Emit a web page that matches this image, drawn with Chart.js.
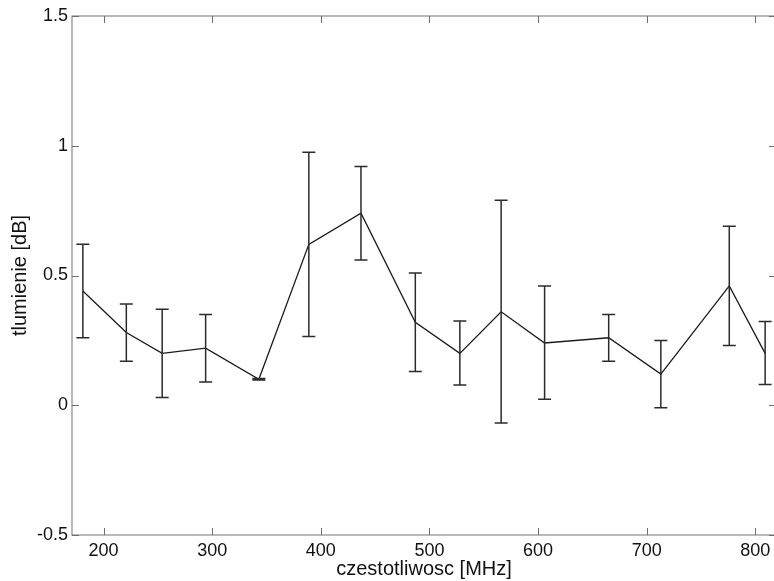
<!DOCTYPE html>
<html>
<head>
<meta charset="utf-8">
<script src="https://cdn.jsdelivr.net/npm/chart.js@4.4.0/dist/chart.umd.min.js"></script>
<style>
  html, body { margin: 0; padding: 0; background: #fff; overflow: hidden; }
  #wrap { width: 782px; height: 581px; }
</style>
</head>
<body>
<div id="wrap"><canvas id="attChart" width="782" height="581"></canvas></div>
<script>
// frequency [MHz] and attenuation [dB]
const freq = [181, 221, 254, 294, 343, 389, 437, 487, 528, 566, 606, 665, 713, 776, 809];
const meanDb = [0.44, 0.28, 0.20, 0.22, 0.10, 0.62, 0.74, 0.32, 0.20, 0.36, 0.24, 0.26, 0.12, 0.46, 0.20];
const upperDb = [0.62, 0.39, 0.37, 0.35, 0.103, 0.975, 0.92, 0.51, 0.325, 0.79, 0.46, 0.35, 0.25, 0.69, 0.323];
const lowerDb = [0.26, 0.17, 0.03, 0.09, 0.097, 0.265, 0.56, 0.13, 0.078, -0.068, 0.023, 0.17, -0.01, 0.23, 0.08];

const xTicks = [200, 300, 400, 500, 600, 700, 800];
const yTicks = [-0.5, 0, 0.5, 1, 1.5];
const yTickLabels = ['-0.5', '0', '0.5', '1', '1.5'];

const FONT = "'Liberation Sans', Arial, Helvetica, sans-serif";

// error bars + inward ticks + box, matlab style
const matlabAxes = {
  id: 'matlabAxes',
  afterDatasetsDraw(chart) {
    const ctx = chart.ctx;
    const xs = chart.scales.x, ys = chart.scales.y;
    const a = chart.chartArea;

    ctx.save();
    ctx.strokeStyle = '#2b2b2b';
    ctx.lineWidth = 1.5;
    const cap = 6.5;
    for (let i = 0; i < freq.length; i++) {
      const px = xs.getPixelForValue(freq[i]);
      const yt = ys.getPixelForValue(upperDb[i]);
      const yb = ys.getPixelForValue(lowerDb[i]);
      ctx.beginPath();
      ctx.moveTo(px, yt); ctx.lineTo(px, yb);
      ctx.moveTo(px - cap, yt); ctx.lineTo(px + cap, yt);
      ctx.moveTo(px - cap, yb); ctx.lineTo(px + cap, yb);
      ctx.stroke();
    }

    // box
    ctx.strokeStyle = '#8a8a8a';
    ctx.lineWidth = 1.2;
    ctx.strokeRect(a.left, a.top, a.right - a.left, a.bottom - a.top);

    // ticks pointing inwards
    ctx.strokeStyle = '#6e6e6e';
    ctx.lineWidth = 1;
    const tl = 7;
    ctx.beginPath();
    xTicks.forEach(v => {
      const px = Math.round(xs.getPixelForValue(v)) + 0.5;
      ctx.moveTo(px, a.bottom); ctx.lineTo(px, a.bottom - tl);
      ctx.moveTo(px, a.top); ctx.lineTo(px, a.top + tl);
    });
    yTicks.forEach(v => {
      const py = Math.round(ys.getPixelForValue(v)) + 0.5;
      ctx.moveTo(a.left, py); ctx.lineTo(a.left + tl, py);
      ctx.moveTo(a.right, py); ctx.lineTo(a.right - tl, py);
    });
    ctx.stroke();
    ctx.restore();
  }
};

new Chart(document.getElementById('attChart'), {
  type: 'line',
  data: {
    datasets: [{
      label: 'tlumienie',
      data: freq.map((f, i) => ({ x: f, y: meanDb[i] })),
      borderColor: '#1a1a1a',
      borderWidth: 1.3,
      pointRadius: 0,
      tension: 0,
      fill: false
    }]
  },
  options: {
    responsive: false,
    animation: false,
    devicePixelRatio: 1,
    layout: { padding: { top: 16, right: 6, left: 0, bottom: 0 } },
    plugins: { legend: { display: false }, tooltip: { enabled: false } },
    scales: {
      x: {
        type: 'linear',
        min: 171,
        max: 819,
        afterBuildTicks: (s) => { s.ticks = xTicks.map(v => ({ value: v })); },
        afterFit: (s) => { s.height = 46; },
        grid: { display: false, drawTicks: false },
        border: { display: false },
        ticks: { color: '#111', font: { family: FONT, size: 18 }, padding: 5, maxRotation: 0 },
        title: {
          display: true,
          text: 'czestotliwosc [MHz]',
          color: '#111',
          font: { family: FONT, size: 20 },
          padding: { top: 0, bottom: 0 }
        }
      },
      y: {
        min: -0.5,
        max: 1.5,
        afterBuildTicks: (s) => { s.ticks = yTicks.map(v => ({ value: v })); },
        afterFit: (s) => { s.width = 72; },
        grid: { display: false, drawTicks: false },
        border: { display: false },
        ticks: {
          color: '#111',
          font: { family: FONT, size: 18 },
          padding: 4,
          callback: (v) => yTickLabels[yTicks.indexOf(v)]
        },
        title: {
          display: true,
          text: 'tlumienie [dB]',
          color: '#111',
          font: { family: FONT, size: 20 },
          padding: { top: 8, bottom: 0 }
        }
      }
    }
  },
  plugins: [matlabAxes]
});
</script>
</body>
</html>
